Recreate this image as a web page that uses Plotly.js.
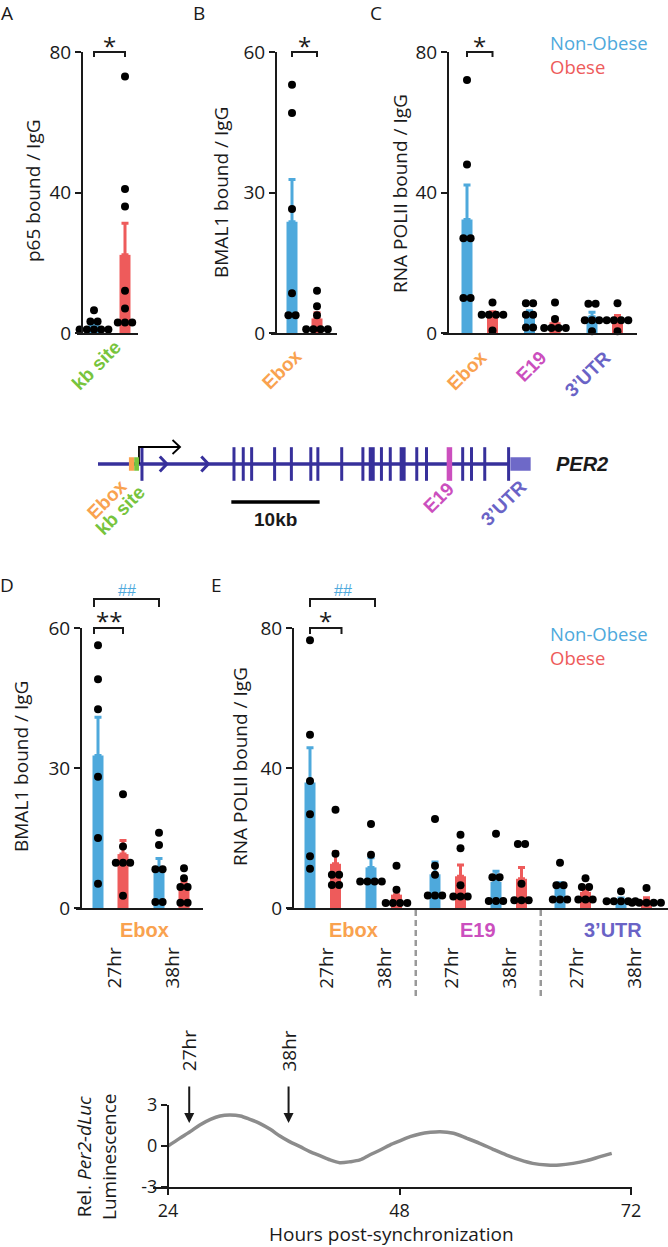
<!DOCTYPE html>
<html><head><meta charset="utf-8">
<script src="https://cdn.plot.ly/plotly-3.0.1.min.js"></script>
<style>html,body{margin:0;padding:0;background:#fff}#chart{width:668px;height:1247px}</style>
</head><body><div id="chart"></div>
<script>
// ================= DATA =================
const groupNames = ['Non-Obese', 'Obese'];

// Panel A: p65 bound / IgG at kb site
const pA_sites = ['kb site'];
const pA_nonObese = [[6.5, 3.3, 3.3, 1, 1, 1, 1, 1]];
const pA_obese = [[73, 41, 36, 12, 7, 3, 3, 3]];

// Panel B: BMAL1 bound / IgG at Ebox
const pB_sites = ['Ebox'];
const pB_nonObese = [[53, 47, 26.5, 8.5, 3.8, 3.8]];
const pB_obese = [[9, 5.7, 3.8, 0.8, 0.8, 0.8, 0.8]];

// Panel C: RNA POLII bound / IgG
const pC_sites = ['Ebox', 'E19', '3’UTR'];
const pC_nonObese = [[72, 48, 27, 27, 10, 10], [8.5, 8.5, 5.2, 5.2, 1.6, 1.6], [8.3, 8.3, 3.6, 3.6, 3.6, 0.5]];
const pC_obese = [[8.7, 5.2, 5.2, 5.2, 5.2, 0.7], [8.7, 4, 1.4, 1.4, 1.4, 1.4], [8.5, 3.6, 3.6, 3.6, 3.6, 0.5]];

// Time points for D and E
const timeLabels = ['27hr', '38hr'];

// Panel D: BMAL1 bound / IgG at Ebox, [site][time]
const pD_sites = ['Ebox'];
const pD_nonObese = [[[56.3, 49, 42.6, 28.1, 15, 5.2], [16.1, 13.5, 8.3, 8.3, 1.3, 1.3]]];
const pD_obese = [[[24.4, 13.2, 9.7, 9.7, 9.7, 2.6], [8.5, 6.4, 4.5, 4.5, 1.1, 1.1]]];

// Panel E: RNA POLII bound / IgG, [site][time]
const pE_sites = ['Ebox', 'E19', '3’UTR'];
const pE_nonObese = [
  [[76.5, 49.5, 36.3, 26.8, 14.8, 11.2], [24, 15.2, 7.6, 7.6, 7.6, 7.6]],
  [[25.4, 12.1, 9.5, 3.6, 3.6, 3.6], [21.2, 8.8, 8.8, 2, 2, 2]],
  [[12.9, 6.5, 6.5, 2.4, 2.4, 2.4], [4.8, 1.9, 1.9, 1.9, 1.9, 1.9]]
];
const pE_obese = [
  [[28.1, 15.5, 9.5, 9.5, 6.6, 6.6], [12.1, 5.2, 1.4, 1.4, 1.4, 1.4]],
  [[20.9, 17.1, 6.5, 3.3, 3.3, 3.3], [18.3, 18.3, 6.9, 2.2, 2.2, 2.2]],
  [[8.5, 6, 6, 2.4, 2.4, 2.4], [5.7, 1.5, 1.5, 1.5, 1.5, 1.5]]
];

// PER2 gene schematic (kb from start of drawn locus)
const geneEndKb = 46.5;
const exonKb = [4.98, 15.4, 16.45, 17.4, 20.0, 21.9, 24.1, 24.9, 27.6, 30.0, 32.1, 33.1, 36.1, 37.2, 41.3, 42.3, 43.8, 46.5];
const wideExonKb = [31.0, 34.5];
const e19Kb = [39.8];
const eboxKb = [3.5, 4.1];
const kbSiteKb = [4.1, 4.64];
const utrKb = [46.7, 49.0];
const tssKb = 4.64;
const tssArrowEndKb = 9.29;
const chevronKb = [7.8, 12.5];
const scaleBarKb = [15.1, 25.1];

// Per2-dLuc luminescence trace
const lumHours = [24.0, 25.2, 26.3, 27.3, 28.4, 29.4, 30.4, 31.5, 32.5, 33.5, 34.6, 35.6, 36.6, 37.7, 38.7, 39.8, 40.8, 41.8, 42.9, 43.9, 44.9, 46.0, 47.0, 48.1, 49.1, 50.1, 51.2, 52.2, 53.6, 55.0, 56.3, 57.7, 59.1, 60.5, 61.8, 63.3, 64.6, 66.0, 67.4, 68.8, 70.0];
const lumValues = [0, 0.56, 1.05, 1.54, 1.95, 2.2, 2.27, 2.2, 1.95, 1.66, 1.22, 0.73, 0.32, -0.05, -0.41, -0.73, -1.02, -1.22, -1.15, -1.02, -0.66, -0.29, 0.07, 0.39, 0.68, 0.88, 1.0, 1.05, 0.93, 0.56, 0.2, -0.24, -0.66, -1.02, -1.27, -1.39, -1.39, -1.27, -1.07, -0.78, -0.54];
const lumTicksX = [24, 48, 72];
const lumTicksY = [-3, 0, 3];
const lumTickTextY = ['-3', '0', '3'];
const arrowHours = [26.2, 36.5];
const arrowLabels = ['27hr', '38hr'];

// ================= STYLE / LAYOUT =================
const W = 668, H = 1247;
const INK = '#1a1a1a';
const GROUP_COLORS = ['#4ea9dc', '#ee5b5b'];
const SITE_COLORS = {'kb site': '#77c43d', 'Ebox': '#f9a24f', 'E19': '#cb4fbe', '3’UTR': '#6a63c6'};
const GENE = '#37309b', UTRBOX = '#6e69c8', GREY = '#8c8c8c';
const FONT = '"Open Sans", "DejaVu Sans", sans-serif';
const BOLD = '"Liberation Sans", Arial, sans-serif';
const px = x => x / W, py = y => 1 - y / H;

const geoms = {
  A: {x0: 77, x1: 138, yAxisX: 82, yTop: 52, yBot: 333, ymax: 80, ticks: [0, 40, 80], first: 94, d: 31, timePitch: 0, sitePitch: 0},
  B: {x0: 271, x1: 337, yAxisX: 276, yTop: 52, yBot: 333, ymax: 60, ticks: [0, 30, 60], first: 292, d: 25, timePitch: 0, sitePitch: 0},
  C: {x0: 443, x1: 637, yAxisX: 448, yTop: 52, yBot: 333, ymax: 80, ticks: [0, 40, 80], first: 467, d: 25.5, timePitch: 0, sitePitch: 62.5},
  D: {x0: 76, x1: 203, yAxisX: 81, yTop: 628, yBot: 908, ymax: 60, ticks: [0, 30, 60], first: 98, d: 25, timePitch: 61, sitePitch: 0},
  E: {x0: 287, x1: 668, yAxisX: 293, yTop: 628, yBot: 908, ymax: 80, ticks: [0, 40, 80], first: 310, d: 25.5, timePitch: 61, sitePitch: 125}
};
const BAR_W = 11, DOT = 8, DOT_SP = 7.2;

const traces = [];
const layout = {
  width: W, height: H, margin: {l: 0, r: 0, t: 0, b: 0},
  paper_bgcolor: '#fff', plot_bgcolor: 'rgba(0,0,0,0)',
  showlegend: false, barmode: 'overlay',
  font: {family: FONT, color: INK},
  annotations: [], shapes: []
};

const mean = a => a.reduce((s, v) => s + v, 0) / a.length;
const sem = a => { const m = mean(a); const v = a.reduce((s, x) => s + (x - m) * (x - m), 0) / (a.length - 1); return Math.sqrt(v / a.length); };

function swarm(vals, pxPerUnit) {
  const s = vals.slice().sort((a, b) => b - a);
  const out = []; let i = 0;
  while (i < s.length) {
    let j = i;
    while (j + 1 < s.length && (s[i] - s[j + 1]) * pxPerUnit < 5) j++;
    const n = j - i + 1;
    for (let k = 0; k < n; k++) out.push({v: s[i + k], off: (k - (n - 1) / 2) * DOT_SP});
    i = j + 1;
  }
  return out;
}

function ann(text, xpx, ypx, font, extra) {
  layout.annotations.push(Object.assign({
    text, x: px(xpx), y: py(ypx), xref: 'paper', yref: 'paper', showarrow: false,
    xanchor: 'center', yanchor: 'middle', font: Object.assign({family: FONT, size: 19, color: INK}, font || {})
  }, extra || {}));
}
function bracket(x1, x2, y, leg) {
  layout.shapes.push({type: 'path', xref: 'paper', yref: 'paper',
    path: `M ${px(x1)},${py(y + leg)} L ${px(x1)},${py(y)} L ${px(x2)},${py(y)} L ${px(x2)},${py(y + leg)}`,
    line: {color: INK, width: 2}});
}

// Build a bar+dot panel. data[group][site][time] -> values
function buildPanel(n, g, sites, nTimes, dataByGroup) {
  const sfx = n === 1 ? '' : String(n);
  const toX = p => (p - g.first) / g.d;
  const slotPx = (s, t, k) => g.first + s * g.sitePitch + t * g.timePitch + k * g.d;
  const pxPerUnitY = (g.yBot - g.yTop) / g.ymax;
  const dotX = [], dotY = [];
  dataByGroup.forEach((grp, k) => {
    const xs = [], ys = [], es = [];
    sites.forEach((site, s) => {
      for (let t = 0; t < nTimes; t++) {
        const vals = grp[s][t];
        const cx = toX(slotPx(s, t, k));
        xs.push(cx); ys.push(mean(vals)); es.push(sem(vals));
        swarm(vals, pxPerUnitY).forEach(p => { dotX.push(cx + p.off / g.d); dotY.push(p.v); });
      }
    });
    traces.push({type: 'bar', name: groupNames[k], x: xs, y: ys, width: BAR_W / g.d,
      xaxis: 'x' + sfx, yaxis: 'y' + sfx,
      marker: {color: GROUP_COLORS[k], line: {width: 0}},
      error_y: {type: 'data', symmetric: false, array: es, arrayminus: es.map(() => 0),
        color: GROUP_COLORS[k], thickness: 3, width: 3.5},
      hoverinfo: 'skip'});
  });
  traces.push({type: 'scatter', mode: 'markers', x: dotX, y: dotY, xaxis: 'x' + sfx, yaxis: 'y' + sfx,
    marker: {color: '#000', size: DOT, line: {width: 0}}, cliponaxis: false, hoverinfo: 'skip'});
  layout['xaxis' + sfx] = {domain: [px(g.x0), px(g.x1)], range: [toX(g.x0), toX(g.x1)], anchor: 'y' + sfx,
    showline: true, linewidth: 2.2, linecolor: INK, ticks: '', showticklabels: false,
    showgrid: false, zeroline: false, fixedrange: true};
  layout['yaxis' + sfx] = {domain: [py(g.yBot), py(g.yTop)], range: [0, g.ymax], anchor: 'free', position: px(g.yAxisX),
    showline: true, linewidth: 2.2, linecolor: INK, ticks: 'outside', ticklen: 6, tickwidth: 2, tickcolor: INK,
    tickvals: g.ticks, ticktext: g.ticks.map(String), tickfont: {family: FONT, size: 19, color: INK},
    showgrid: false, zeroline: false, fixedrange: true};
  return slotPx;
}

const wrap = arr => arr.map(v => [v]);
const slotA = buildPanel(1, geoms.A, pA_sites, 1, [wrap(pA_nonObese), wrap(pA_obese)]);
const slotB = buildPanel(2, geoms.B, pB_sites, 1, [wrap(pB_nonObese), wrap(pB_obese)]);
const slotC = buildPanel(3, geoms.C, pC_sites, 1, [wrap(pC_nonObese), wrap(pC_obese)]);
const slotD = buildPanel(4, geoms.D, pD_sites, 2, [pD_nonObese, pD_obese]);
const slotE = buildPanel(5, geoms.E, pE_sites, 2, [pE_nonObese, pE_obese]);

// ---- Panel letters, y titles ----
ann('A', 7, 13, {size: 19}); ann('B', 199, 13, {size: 19}); ann('C', 376, 13, {size: 19});
ann('D', 7, 585, {size: 19}); ann('E', 216, 585, {size: 19});
ann('p65 bound / IgG', 33, 191, {}, {textangle: -90});
ann('BMAL1 bound / IgG', 221, 193, {}, {textangle: -90});
ann('RNA POLII bound / IgG', 400, 193, {}, {textangle: -90});
ann('BMAL1 bound / IgG', 21, 767, {}, {textangle: -90});
ann('RNA POLII bound / IgG', 240, 767, {}, {textangle: -90});

// ---- Legends (one text block each, two coloured lines) ----
const legendText = groupNames.map((nm, k) => `<span style="color:${GROUP_COLORS[k]}">${nm}</span>`).join('<br>');
ann(legendText, 548, 54, {size: 18.5}, {xanchor: 'left', align: 'left'});
ann(legendText, 548, 645, {size: 18.5}, {xanchor: 'left', align: 'left'});

// ---- Rotated site labels under A-C ----
const rotLab = (site, x, y) => ann('<b>' + site + '</b>', x, y, {family: BOLD, size: 19, color: SITE_COLORS[site]}, {textangle: -45});
rotLab(pA_sites[0], 96, 365);
rotLab(pB_sites[0], 282, 370);
rotLab(pC_sites[0], 467, 371);
rotLab(pC_sites[1], 531, 366);
rotLab(pC_sites[2], 587, 374);

// ---- Significance brackets ----
const star = (t, x, y, size) => ann(t, x, y, {size: size || 24});
bracket(slotA(0, 0, 0), slotA(0, 0, 1), 52, 5); star('*', (slotA(0, 0, 0) + slotA(0, 0, 1)) / 2, 45);
bracket(slotB(0, 0, 0), slotB(0, 0, 1), 52, 5); star('*', (slotB(0, 0, 0) + slotB(0, 0, 1)) / 2, 45);
bracket(slotC(0, 0, 0), slotC(0, 0, 1), 52, 5); star('*', (slotC(0, 0, 0) + slotC(0, 0, 1)) / 2, 45);
// D
bracket(slotD(0, 0, 0) - 4, slotD(0, 1, 0), 599, 8);
ann('##', (slotD(0, 0, 0) - 4 + slotD(0, 1, 0)) / 2, 590, {family: BOLD, size: 16, color: GROUP_COLORS[0]});
bracket(slotD(0, 0, 0) - 4, slotD(0, 0, 1), 628, 6);
star('**', (slotD(0, 0, 0) - 4 + slotD(0, 0, 1)) / 2, 620);
// E
bracket(slotE(0, 0, 0), slotE(0, 1, 0) + 4, 599, 8);
ann('##', (slotE(0, 0, 0) + slotE(0, 1, 0) + 4) / 2, 590, {family: BOLD, size: 16, color: GROUP_COLORS[0]});
bracket(slotE(0, 0, 0), slotE(0, 0, 1) + 6, 628, 6);
star('*', (slotE(0, 0, 0) + slotE(0, 0, 1) + 6) / 2, 620);

// ---- D/E x-axis labels ----
function timeAxisLabels(slot, sites, dxSite) {
  sites.forEach((site, s) => {
    const c27 = (slot(s, 0, 0) + slot(s, 0, 1)) / 2, c38 = (slot(s, 1, 0) + slot(s, 1, 1)) / 2;
    ann('<b>' + site + '</b>', (c27 + c38) / 2 + (dxSite[s] || 0), 930, {family: BOLD, size: 20, color: SITE_COLORS[site]});
    ann(timeLabels[0], c27 + 3, 968, {size: 19}, {textangle: -90});
    ann(timeLabels[1], c38 + 0, 968, {size: 19}, {textangle: -90});
  });
}
timeAxisLabels(slotD, pD_sites, [3]);
timeAxisLabels(slotE, pE_sites, [0, 0, 10]);
// dashed separators in E
[0, 1].forEach(s => {
  const xs = (slotE(s, 1, 1) + slotE(s + 1, 0, 0)) / 2;
  layout.shapes.push({type: 'line', xref: 'paper', yref: 'paper', x0: px(xs), x1: px(xs), y0: py(910), y1: py(997),
    line: {color: '#999', width: 2.5, dash: '6px,4px'}});
});

// ================= GENE SCHEMATIC (axis 6) =================
const gK = 8.83, gX0 = 98, gY0 = 464, gU = 25; // px per kb, px of kb 0, px of y 0, px per y unit
layout.xaxis6 = {domain: [px(60), px(545)], range: [(60 - gX0) / gK, (545 - gX0) / gK], anchor: 'y6', visible: false, fixedrange: true};
layout.yaxis6 = {domain: [py(545), py(430)], range: [(gY0 - 545) / gU, (gY0 - 430) / gU], anchor: 'x6', visible: false, fixedrange: true};
const g6 = {xaxis: 'x6', yaxis: 'y6', hoverinfo: 'skip', showlegend: false};
traces.push(Object.assign({type: 'scatter', mode: 'lines', x: [0, geneEndKb], y: [0, 0], line: {color: GENE, width: 3.5}}, g6));
traces.push(Object.assign({type: 'scatter', mode: 'markers', x: exonKb, y: exonKb.map(() => 0),
  marker: {symbol: 'line-ns', size: 24, color: GENE, line: {color: GENE, width: 3}}}, g6));
traces.push(Object.assign({type: 'scatter', mode: 'markers', x: wideExonKb, y: wideExonKb.map(() => 0),
  marker: {symbol: 'line-ns', size: 24, color: GENE, line: {color: GENE, width: 6}}}, g6));
traces.push(Object.assign({type: 'scatter', mode: 'markers', x: e19Kb, y: e19Kb.map(() => 0),
  marker: {symbol: 'line-ns', size: 24, color: SITE_COLORS['E19'], line: {color: SITE_COLORS['E19'], width: 5.5}}}, g6));
// chevrons
const chX = [], chY = [];
chevronKb.forEach(c => { chX.push(c - 0.8, c, c - 0.8, null); chY.push(0.3, 0, -0.3, null); });
traces.push(Object.assign({type: 'scatter', mode: 'lines', x: chX, y: chY, line: {color: GENE, width: 3}}, g6));
// TSS arrow
traces.push(Object.assign({type: 'scatter', mode: 'lines', x: [tssKb, tssKb, tssArrowEndKb], y: [0, 0.68, 0.68], line: {color: '#000', width: 1.8}}, g6));
traces.push(Object.assign({type: 'scatter', mode: 'lines', x: [tssArrowEndKb - 0.85, tssArrowEndKb, tssArrowEndKb - 0.85], y: [0.96, 0.68, 0.40], line: {color: '#000', width: 1.8}}, g6));
// scale bar
traces.push(Object.assign({type: 'scatter', mode: 'lines', x: scaleBarKb, y: [-1.52, -1.52], line: {color: '#000', width: 3.5}}, g6));
// boxes
const rect6 = (x0, x1, color) => layout.shapes.push({type: 'rect', xref: 'x6', yref: 'y6', x0, x1, y0: -0.27, y1: 0.27, fillcolor: color, line: {width: 0}});
rect6(eboxKb[0], eboxKb[1], SITE_COLORS['Ebox']);
rect6(kbSiteKb[0], kbSiteKb[1], SITE_COLORS['kb site']);
rect6(utrKb[0], utrKb[1], UTRBOX);
ann('<b><i>PER2</i></b>', 582, 464, {family: BOLD, size: 20});
ann('<b>10kb</b>', 275, 519, {family: BOLD, size: 19});
const geneLab = (site, x, y) => ann('<b>' + site + '</b>', x, y, {family: BOLD, size: 19, color: SITE_COLORS[site]}, {textangle: -45});
geneLab('Ebox', 107, 500);
geneLab('kb site', 120, 510);
geneLab('E19', 439, 498);
geneLab('3’UTR', 503, 503);

// ================= LUMINESCENCE (axis 7) =================
const lx0 = 168, lpx = (631 - 168) / 48;
layout.xaxis7 = {domain: [px(153), px(632)], range: [24 - (lx0 - 153) / lpx, 72 + (632 - 631) / lpx], anchor: 'y7',
  showline: true, linewidth: 2.2, linecolor: INK, ticks: 'outside', ticklen: 6, tickwidth: 2, tickcolor: INK,
  tickvals: lumTicksX, ticktext: lumTicksX.map(String), tickfont: {family: FONT, size: 18, color: INK},
  showgrid: false, zeroline: false, fixedrange: true};
layout.yaxis7 = {domain: [py(1187), py(1105)], range: [-3, 3], anchor: 'free', position: px(lx0),
  showline: true, linewidth: 2.2, linecolor: INK, ticks: 'outside', ticklen: 6, tickwidth: 2, tickcolor: INK,
  tickvals: lumTicksY, ticktext: lumTickTextY, tickfont: {family: FONT, size: 18, color: INK},
  showgrid: false, zeroline: false, fixedrange: true};
traces.push({type: 'scatter', mode: 'lines', x: lumHours, y: lumValues, xaxis: 'x7', yaxis: 'y7',
  line: {color: GREY, width: 3.5, shape: 'spline', smoothing: 0.8}, hoverinfo: 'skip'});
arrowHours.forEach((h, i) => {
  layout.annotations.push({x: h, y: 1.68, xref: 'x7', yref: 'y7', ax: 0, ay: -38, showarrow: true,
    arrowhead: 2, arrowsize: 1, arrowwidth: 2, arrowcolor: INK, text: ''});
  layout.annotations.push({x: h, y: py(1051), xref: 'x7', yref: 'paper', text: arrowLabels[i], textangle: -90,
    showarrow: false, xanchor: 'center', yanchor: 'middle', font: {family: FONT, size: 19, color: INK}});
});
ann('Rel. <i>Per2-dLuc</i><br>Luminescence', 96, 1157, {size: 19}, {textangle: -90});
ann('Hours post-synchronization', 391, 1234, {size: 19});

Plotly.newPlot('chart', traces, layout, {staticPlot: true, displayModeBar: false});
</script>
</body></html>
